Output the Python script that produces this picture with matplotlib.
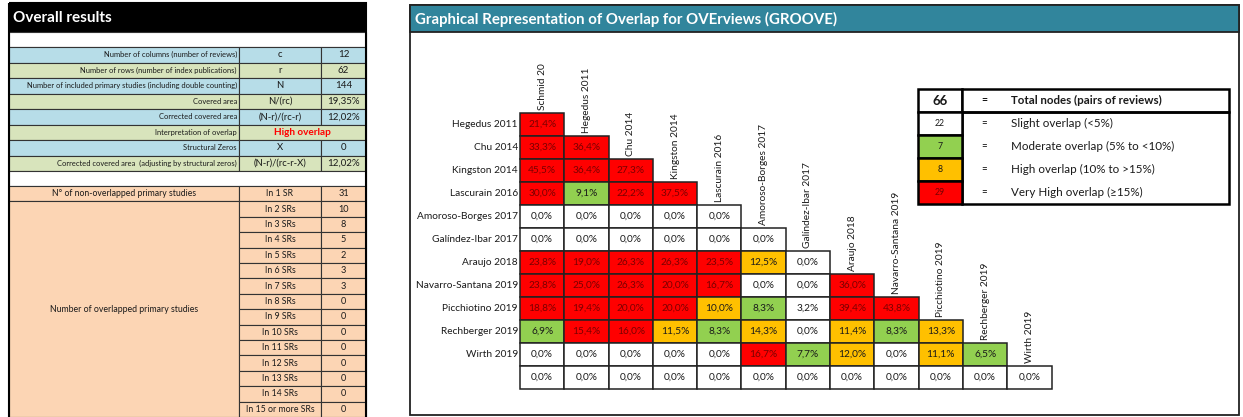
import matplotlib.pyplot as plt
from matplotlib.patches import Rectangle

plt.rcParams['font.family'] = ['Lato', 'DejaVu Sans']

# ---- data ----
summary_labels = ["Number of columns (number of reviews)",
                  "Number of rows (number of index publications)",
                  "Number of included primary studies (including double counting)",
                  "Covered area",
                  "Corrected covered area",
                  "Interpretation of overlap",
                  "Structural Zeros",
                  "Corrected covered area  (adjusting by structural zeros)"]
summary_formula = ["c", "r", "N", "N/(rc)", "(N-r)/(rc-r)", "High overlap", "X", "(N-r)/(rc-r-X)"]
summary_values = ["12", "62", "144", "19,35%", "12,02%", "", "0", "12,02%"]

sr_labels = ["In 1 SR"] + ["In %d SRs" % k for k in range(2, 15)] + ["In 15 or more SRs"]
sr_counts = [31, 10, 8, 5, 2, 3, 3, 0, 0, 0, 0, 0, 0, 0, 0]

col_names = ["Schmid 20", "Hegedus 2011", "Chu 2014", "Kingston 2014", "Lascurain 2016",
             "Amoroso-Borges 2017", "Galíndez-Ibar 2017", "Araujo 2018",
             "Navarro-Santana 2019", "Picchiotino 2019", "Rechberger 2019", "Wirth 2019"]
row_names = ["Hegedus 2011", "Chu 2014", "Kingston 2014", "Lascurain 2016",
             "Amoroso-Borges 2017", "Galíndez-Ibar 2017", "Araujo 2018",
             "Navarro-Santana 2019", "Picchiotino 2019", "Rechberger 2019", "Wirth 2019", ""]
overlap = [
    [21.4],
    [33.3, 36.4],
    [45.5, 36.4, 27.3],
    [30.0, 9.1, 22.2, 37.5],
    [0.0, 0.0, 0.0, 0.0, 0.0],
    [0.0, 0.0, 0.0, 0.0, 0.0, 0.0],
    [23.8, 19.0, 26.3, 26.3, 23.5, 12.5, 0.0],
    [23.8, 25.0, 26.3, 20.0, 16.7, 0.0, 0.0, 36.0],
    [18.8, 19.4, 20.0, 20.0, 10.0, 8.3, 3.2, 39.4, 43.8],
    [6.9, 15.4, 16.0, 11.5, 8.3, 14.3, 0.0, 11.4, 8.3, 13.3],
    [0.0, 0.0, 0.0, 0.0, 0.0, 16.7, 7.7, 12.0, 0.0, 11.1, 6.5],
    [0.0] * 12,
]

legend_counts = [22, 7, 8, 29]
legend_labels = ["Slight overlap (<5%)", "Moderate overlap (5% to <10%)",
                 "High overlap (10% to >15%)", "Very High overlap (≥15%)"]
total_nodes = 66

# ---- styling ----
BLUE = "#b7dde8"
OLIVE = "#d8e4bc"
PEACH = "#fcd5b4"
TEAL = "#31859c"
WHITE, GREEN, AMBER, RED = "#ffffff", "#92d050", "#ffc000", "#ff0000"
EDGE = "#333333"
TXT = "#1a1a1a"
DARKRED = "#7a0000"


def cell_color(v):
    if v < 5:
        return WHITE
    if v < 10:
        return GREEN
    if v < 15:
        return AMBER
    return RED


fig = plt.figure(figsize=(12.43, 4.17), dpi=100)
ax = fig.add_axes([0, 0, 1, 1])
ax.set_xlim(0, 1243)
ax.set_ylim(417, 0)
ax.axis("off")


def box(x, y, w, h, fc, lw=0.8, ec=EDGE, z=1):
    ax.add_patch(Rectangle((x, y), w, h, facecolor=fc, edgecolor=ec, lw=lw, zorder=z))


# ================= left panel =================
L0, L1, L2, L3 = 9, 239, 321, 366
box(L0, 3, L3 - L0, 29, "black", lw=0)
ax.text(L0 + 4, 18, "Overall results", color="white", fontsize=11, fontweight="bold",
        va="center", ha="left")
box(L0, 32, L3 - L0, 15, "white")

rh = 15.5
top = 47
for i, lab in enumerate(summary_labels):
    y = top + i * rh
    fc = BLUE if i % 2 == 0 else OLIVE
    box(L0, y, L1 - L0, rh, fc)
    ax.text(L1 - 2, y + rh / 2, lab, fontsize=5.4, ha="right", va="center", color=TXT)
    if summary_values[i] == "":
        box(L1, y, L3 - L1, rh, fc)
        ax.text((L1 + L3) / 2, y + rh / 2, summary_formula[i], fontsize=7.2, color="red",
                fontweight="bold", ha="center", va="center")
    else:
        box(L1, y, L2 - L1, rh, fc)
        box(L2, y, L3 - L2, rh, fc)
        ax.text((L1 + L2) / 2, y + rh / 2, summary_formula[i], fontsize=6.8, ha="center",
                va="center", color=TXT)
        ax.text((L2 + L3) / 2, y + rh / 2, summary_values[i], fontsize=7, ha="center",
                va="center", color=TXT)

y_gap = top + len(summary_labels) * rh
box(L0, y_gap, L3 - L0, 15, "white")

otop = y_gap + 15
orh = (417 - otop) / len(sr_labels)
box(L0, otop, L1 - L0, orh, PEACH)
ax.text((L0 + L1) / 2, otop + orh / 2, "N° of non-overlapped primary studies", fontsize=6.2,
        ha="center", va="center", color=TXT)
box(L0, otop + orh, L1 - L0, orh * (len(sr_labels) - 1), PEACH)
ax.text((L0 + L1) / 2, otop + orh * (1 + (len(sr_labels) - 1) / 2),
        "Number of overlapped primary studies", fontsize=6.3, ha="center", va="center",
        color=TXT)
for i, (lab, n) in enumerate(zip(sr_labels, sr_counts)):
    y = otop + i * orh
    box(L1, y, L2 - L1, orh, PEACH)
    box(L2, y, L3 - L2, orh, PEACH)
    ax.text((L1 + L2) / 2, y + orh / 2, lab, fontsize=6.3, ha="center", va="center", color=TXT)
    ax.text((L2 + L3) / 2, y + orh / 2, str(n), fontsize=6.6, ha="center", va="center",
            color=TXT)

ax.add_patch(Rectangle((L0, 3), L3 - L0, 420, fill=False, edgecolor="black", lw=1.5, zorder=3))

# ================= right panel =================
R0, R1 = 410, 1239
ax.add_patch(Rectangle((R0, 5), R1 - R0, 410, facecolor="white", edgecolor="#222222",
                       lw=1.3, zorder=0.5))
box(R0, 5, R1 - R0, 27, TEAL, lw=1.3, ec="#222222")
ax.text(R0 + 5, 19, "Graphical Representation of Overlap for OVErviews (GROOVE)",
        color="white", fontsize=10.8, fontweight="bold", ha="left", va="center")

mx, my = 520, 113
cw, ch = 44.3, 23
for i, row in enumerate(overlap):
    yc = my + i * ch
    ax.text(mx - 2, yc + ch / 2, row_names[i], fontsize=7.3, ha="right", va="center", color=TXT)
    for j, v in enumerate(row):
        fc = cell_color(v)
        box(mx + j * cw, yc, cw, ch, fc, lw=1.1, ec="#222222", z=2)
        tc = DARKRED if fc == RED else TXT
        ax.text(mx + j * cw + cw / 2, yc + ch / 2, ("%.1f%%" % v).replace(".", ","),
                fontsize=7.3, ha="center", va="center", color=tc, zorder=4)

for j, name in enumerate(col_names):
    ax.text(mx + j * cw + cw / 2, my + j * ch - 3, name, rotation=90, fontsize=7.3,
            ha="center", va="bottom", color=TXT)

# legend
gx0, gx1, gx2 = 918, 962, 1229
gy0, gh = 89, 23
box(gx0, gy0, gx1 - gx0, gh, "white", lw=1.8, ec="black", z=2)
box(gx1, gy0, gx2 - gx1, gh, "white", lw=1.8, ec="black", z=2)
ax.text((gx0 + gx1) / 2, gy0 + gh / 2, str(total_nodes), fontsize=9.5, fontweight="bold",
        ha="center", va="center", color=TXT, zorder=4)
ax.text(984, gy0 + gh / 2, "=", fontsize=7.5, fontweight="bold", ha="center", va="center",
        zorder=4)
ax.text(1011, gy0 + gh / 2, "Total nodes (pairs of reviews)", fontsize=8.3,
        fontweight="bold", ha="left", va="center", color=TXT, zorder=4)
ax.add_patch(Rectangle((gx1, gy0 + gh), gx2 - gx1, gh * 4, fill=False, edgecolor="black",
                       lw=1.8, zorder=2))
for k, (n, lab, fc) in enumerate(zip(legend_counts, legend_labels, [WHITE, GREEN, AMBER, RED])):
    y = gy0 + gh * (k + 1)
    box(gx0, y, gx1 - gx0, gh, fc, lw=1.8, ec="black", z=2)
    ax.text((gx0 + gx1) / 2, y + gh / 2, str(n), fontsize=6.3, ha="center", va="center",
            color=DARKRED if fc == RED else TXT, zorder=4)
    ax.text(984, y + gh / 2, "=", fontsize=7, ha="center", va="center", zorder=4)
    ax.text(1011, y + gh / 2, lab, fontsize=8.4, ha="left", va="center", color=TXT, zorder=4)

fig.savefig("out.png", dpi=100, facecolor="white")
